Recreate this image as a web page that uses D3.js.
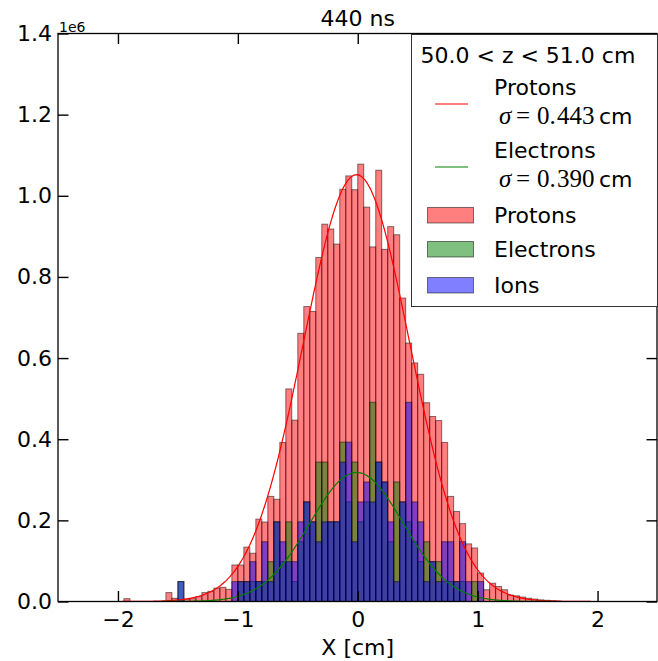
<!DOCTYPE html>
<html>
<head>
<meta charset="utf-8">
<script src="https://cdn.jsdelivr.net/npm/d3@7"></script>
<style>
  body { margin: 0; background: #fff; }
  svg { display: block; font-family: "DejaVu Sans", sans-serif; }
</style>
</head>
<body>
<svg id="chart"></svg>
<script>
// histogram bins, all 0.05 cm wide
const binWidth = 0.05;

// protons, bins starting at x = -2.0 (values in 1e6)
const protonStart = -2.0;
const protons = [
  0, 0.007, 0, 0, 0, 0, 0, 0, 0.022, 0.008,
  0.004, 0.006, 0.007, 0.012, 0.022, 0.025, 0.033, 0.035, 0.030, 0.090,
  0.090, 0.134, 0.119, 0.203, 0.196, 0.259, 0.252, 0.392, 0.524, 0.447,
  0.661, 0.727, 0.715, 0.848, 0.930, 0.918, 0.881, 1.016, 1.049, 1.015,
  1.078, 0.972, 0.874, 1.063, 0.868, 0.924, 0.904, 0.748, 0.637, 0.588,
  0.560, 0.490, 0.456, 0.446, 0.392, 0.259, 0.222, 0.192, 0.142, 0.132,
  0.070, 0.029, 0.045, 0.037, 0.029, 0.016, 0.014, 0.011, 0.008, 0.006,
  0.004, 0.003, 0.002, 0.001
];

// electrons and ions: macro-particle counts per bin, bins starting at x = -1.5
const macroWeight = 0.0491;
const speciesStart = -1.5;
const electronCounts = [
  1, 0, 0, 0, 0, 0, 0, 0, 0, 0,
  1, 1, 1, 1, 1, 2, 4, 2, 4, 1,
  3, 5, 4, 7, 7, 4, 4, 8, 5, 7,
  4, 5, 10, 7, 6, 3, 6, 5, 4, 3,
  2, 3, 2, 2, 1, 1, 1, 1, 0, 1,
  0
];
const ionCounts = [
  1, 0, 0, 0, 0, 0, 0, 0, 0, 1,
  1, 1, 2, 1, 3, 1, 4, 3, 2, 2,
  4, 5, 4, 3, 4, 4, 4, 7, 8, 3,
  5, 6, 5, 7, 6, 4, 1, 5, 10, 5,
  4, 1, 2, 1, 3, 3, 1, 3, 1, 0,
  1
];

// gaussian fits
const protonFit = { amp: 1.052, mu: -0.01, sigma: 0.443 };
const electronFit = { amp: 0.318, mu: -0.01, sigma: 0.390 };

const xTicks = [-2, -1, 0, 1, 2];
const yTicks = [0, 0.2, 0.4, 0.6, 0.8, 1.0, 1.2, 1.4];

const title = "440 ns";
const legendTitle = "50.0 < z < 51.0 cm";

var width = 658, height = 661;
var margin = {top: 33.5, right: 0.5, bottom: 59.5, left: 58};

const svg = d3.select("#chart")
    .attr("width", width)
    .attr("height", height);

const x = d3.scaleLinear()
    .domain([-2.5, 2.5])
    .range([margin.left, width - margin.right]);

const y = d3.scaleLinear()
    .domain([0, 1.4])
    .range([height - margin.bottom, margin.top]);

const toBins = (start, vals) => vals.map((v, i) => ({x0: start + i * binWidth, v: v}));

const protonBins = toBins(protonStart, protons);
const electronBins = toBins(speciesStart, electronCounts.map(c => c * macroWeight));
const ionBins = toBins(speciesStart, ionCounts.map(c => c * macroWeight));

svg.append("clipPath").attr("id", "plotclip")
  .append("rect")
    .attr("x", x(-2.5)).attr("y", y(1.4))
    .attr("width", x(2.5) - x(-2.5)).attr("height", y(0) - y(1.4));

const plot = svg.append("g").attr("clip-path", "url(#plotclip)");

function drawHist(bins, color) {
  plot.append("g").selectAll("rect")
      .data(bins)
    .enter().append("rect")
      .attr("x", d => x(d.x0))
      .attr("width", d => x(d.x0 + binWidth) - x(d.x0))
      .attr("y", d => y(d.v))
      .attr("height", d => y(0) - y(d.v))
      .attr("fill", color)
      .attr("fill-opacity", 0.5)
      .attr("stroke", "#000")
      .attr("stroke-opacity", 0.5)
      .attr("stroke-width", 1);
}

drawHist(protonBins, "#ff0000");
drawHist(electronBins, "#008000");
drawHist(ionBins, "#0000ff");

// fitted curves
const grid = d3.range(-2.5, 2.5001, 0.01);
const gauss = (f, t) => f.amp * Math.exp(-0.5 * Math.pow((t - f.mu) / f.sigma, 2));
const line = d3.line().x(d => x(d[0])).y(d => y(d[1]));

plot.append("path")
    .datum(grid.map(t => [t, gauss(protonFit, t)]))
    .attr("fill", "none").attr("stroke", "#ff0000").attr("stroke-width", 1.2)
    .attr("d", line);

plot.append("path")
    .datum(grid.map(t => [t, gauss(electronFit, t)]))
    .attr("fill", "none").attr("stroke", "#008000").attr("stroke-width", 1.2)
    .attr("d", line);

// axes (ticks point inward, on all four sides)
const tickLen = 10.5;

svg.append("g")
    .attr("transform", "translate(0," + y(0) + ")")
    .call(d3.axisBottom(x).tickValues(xTicks).tickSize(-tickLen).tickPadding(9.5)
      .tickFormat(d3.format("d")));
svg.append("g")
    .attr("transform", "translate(0," + y(1.4) + ")")
    .call(d3.axisTop(x).tickValues(xTicks).tickSize(-tickLen).tickFormat(""));

svg.append("g")
    .attr("transform", "translate(" + x(-2.5) + ",0)")
    .call(d3.axisLeft(y).tickValues(yTicks).tickSize(-tickLen).tickPadding(6)
      .tickFormat(d => d.toFixed(1)));
svg.append("g")
    .attr("transform", "translate(" + (x(2.5) - 0.5) + ",0)")
    .call(d3.axisRight(y).tickValues(yTicks).tickSize(-tickLen).tickFormat(""));

svg.selectAll(".domain").remove();
svg.selectAll(".tick line").attr("stroke", "#000").attr("stroke-width", 1.4);
svg.selectAll(".tick text")
    .attr("font-family", "DejaVu Sans")
    .attr("font-size", 22)
    .attr("fill", "#000");

// frame
svg.append("rect")
    .attr("x", x(-2.5)).attr("y", y(1.4))
    .attr("width", x(2.5) - x(-2.5) - 0.5).attr("height", y(0) - y(1.4))
    .attr("fill", "none").attr("stroke", "#000").attr("stroke-width", 1.3);

// labels
svg.append("text")
    .attr("x", (x(-2.5) + x(2.5)) / 2).attr("y", 26)
    .attr("text-anchor", "middle").attr("font-size", 22)
    .text(title);

svg.append("text")
    .attr("x", (x(-2.5) + x(2.5)) / 2).attr("y", 655)
    .attr("text-anchor", "middle").attr("font-size", 22)
    .text("X [cm]");

svg.append("text")
    .attr("x", x(-2.5) + 1).attr("y", 32)
    .attr("font-size", 14)
    .text("1e6");

// legend
const lg = svg.append("g");
lg.append("rect")
    .attr("x", 411.5).attr("y", 34.5)
    .attr("width", 246).attr("height", 272)
    .attr("fill", "#fff").attr("stroke", "#333").attr("stroke-width", 1);

lg.append("text").attr("x", 420.5).attr("y", 63).attr("font-size", 22).text(legendTitle);

const lineEntries = [
  {name: "Protons", sigma: "443", color: "#ff0000", ly: 104, ty: 95},
  {name: "Electrons", sigma: "390", color: "#008000", ly: 167, ty: 158}
];

const mathFont = "Liberation Serif";

lineEntries.forEach(e => {
  lg.append("line")
      .attr("x1", 435).attr("x2", 468).attr("y1", e.ly).attr("y2", e.ly)
      .attr("stroke", e.color).attr("stroke-width", 1.2);
  lg.append("text").attr("x", 494).attr("y", e.ty).attr("font-size", 22).text(e.name);
  const t = lg.append("text").attr("y", e.ty + 28.5).attr("font-size", 22);
  t.append("tspan").attr("x", 499).attr("font-family", mathFont).attr("font-size", 25)
      .attr("font-style", "italic").text("σ");
  t.append("tspan").attr("x", 516).attr("font-family", mathFont).attr("font-size", 25).text("=");
  t.append("tspan").attr("x", 537).attr("font-family", mathFont).attr("font-size", 25).text("0.");
  t.append("tspan").attr("x", 557).attr("font-family", mathFont).attr("font-size", 25).text(e.sigma);
  t.append("tspan").attr("x", 599).text("cm");
});

const patchEntries = [
  {name: "Protons", color: "#ff0000", py: 207},
  {name: "Electrons", color: "#008000", py: 241},
  {name: "Ions", color: "#0000ff", py: 277}
];

patchEntries.forEach(e => {
  lg.append("rect")
      .attr("x", 427.5).attr("y", e.py + 0.5)
      .attr("width", 46).attr("height", 15.5)
      .attr("fill", e.color).attr("fill-opacity", 0.5)
      .attr("stroke", "#000").attr("stroke-opacity", 0.5);
  lg.append("text").attr("x", 494).attr("y", e.py + 15.5).attr("font-size", 22).text(e.name);
});
</script>
</body>
</html>
